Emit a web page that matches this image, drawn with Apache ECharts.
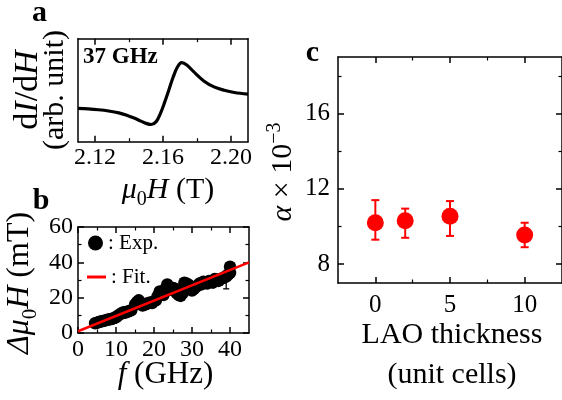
<!DOCTYPE html>
<html>
<head>
<meta charset="utf-8">
<script src="https://cdn.jsdelivr.net/npm/echarts@6/dist/echarts.min.js"></script>
<style>
  html, body { margin: 0; padding: 0; background: #fff; }
  #chart { width: 562px; height: 400px; }
</style>
</head>
<body>
<div id="chart"></div>
<script>
// (a) derivative FMR spectrum at 37 GHz
const fieldT = [2.110, 2.116, 2.122, 2.128, 2.134, 2.139, 2.143, 2.147, 2.150, 2.153,
                2.156, 2.1585, 2.161, 2.1635, 2.166, 2.1685, 2.171, 2.174, 2.178, 2.184,
                2.190, 2.196, 2.202, 2.210];
const dIdH = [32.3, 31.8, 31.0, 29.8, 28.0, 25.5, 23.0, 20.0, 17.8, 16.7,
              19.5, 27.5, 38.4, 50.5, 62.8, 72.5, 76.7, 74.5, 68.0, 59.0,
              53.2, 50.0, 47.8, 46.2];

// (b) linewidth versus frequency
const freqGHz = [4.5, 5.0, 5.5, 6.0, 6.5, 7.0, 7.5, 8.0, 8.5, 9.0,
                 9.5, 10.0, 10.5, 11.0, 11.5, 12.0, 12.5, 13.0, 13.5, 14.0,
                 15.0, 15.5, 16.0, 16.5, 17.0, 17.5, 18.0, 18.5, 19.0, 19.5,
                 20.0, 20.5, 21.0, 21.5, 22.0, 22.5, 23.0, 23.5, 24.0, 24.5,
                 25.0, 25.5, 26.0, 26.5, 27.0, 27.5, 28.0, 28.5, 29.0, 29.5,
                 30.0, 30.5, 31.0, 31.5, 32.0, 32.5, 33.0, 33.5, 34.0, 34.5,
                 35.0, 35.5, 36.0, 36.5, 37.0, 37.5, 38.0, 38.5, 39.0, 39.5,
                 40.0, 40.0];
const linewidthMT = [5.5, 5.8, 6.2, 6.5, 6.8, 7.0, 7.3, 7.6, 7.8, 8.0,
                     8.5, 8.8, 9.8, 10.5, 11.2, 11.8, 11.5, 12.0, 12.5, 12.8,
                     16.0, 17.5, 18.5, 17.0, 15.5, 16.0, 16.5, 16.8, 17.2, 17.0,
                     18.0, 18.5, 21.0, 23.5, 22.0, 21.5, 25.0, 27.5, 26.0, 24.5,
                     25.5, 25.0, 22.5, 21.5, 21.0, 22.5, 28.5, 28.0, 27.5, 26.5,
                     24.0, 25.0, 26.0, 27.0, 28.0, 27.5, 29.0, 28.5, 28.0, 29.5,
                     29.0, 28.5, 30.5, 30.0, 29.5, 30.5, 31.0, 31.5, 32.0, 33.0,
                     37.5, 34.0];
const errFreq = [32, 39];
const errLow = [27.0, 25.0];
const errHigh = [30.4, 33.0];
const fitFreq = [0, 45];
const fitLinewidth = [1.0, 40.0];

// (c) damping versus LAO thickness
const laoThickness = [0, 2, 5, 10];
const alphaE3 = [10.2, 10.3, 10.55, 9.55];
const alphaLow = [9.3, 9.4, 9.5, 8.9];
const alphaHigh = [11.4, 10.95, 11.35, 10.2];

// tick values
const ticksAx = [2.12, 2.16, 2.20], minorAx = [2.14, 2.18];
const ticksBx = [0, 10, 20, 30, 40], minorBx = [5, 15, 25, 35];
const ticksBy = [0, 20, 40, 60], minorBy = [10, 30, 50];
const ticksCx = [0, 5, 10], minorCx = [2.5, 7.5];
const ticksCy = [8, 12, 16], minorCy = [10, 14, 18];

const FONT = '"Liberation Serif", serif';
const zip = (a, b) => a.map((v, i) => [v, b[i]]);

function tickLabel(size, margin, digits) {
  return {
    show: true, margin: margin, color: '#000', fontFamily: FONT, fontSize: size,
    formatter: v => (digits != null ? v.toFixed(digits) : String(v))
  };
}

// four axes per side pair: primary major/minor + opposite major/minor (closed box, inward ticks)
function boxAxes(dim, grid, min, max, major, minor, label) {
  const pos = dim === 'x' ? ['bottom', 'top'] : ['left', 'right'];
  const out = [];
  pos.forEach((p, k) => {
    out.push({
      gridIndex: grid, type: 'value', min: min, max: max, position: p,
      splitLine: { show: false },
      axisLine: { show: true, onZero: false, lineStyle: { color: '#000', width: 1.5 } },
      axisTick: { show: major.length > 0, inside: true, length: 6, customValues: major,
                  lineStyle: { color: '#000', width: 1.5 } },
      axisLabel: (k === 0 && label)
        ? Object.assign({ customValues: major }, label)
        : { show: false }
    });
    out.push({
      gridIndex: grid, type: 'value', min: min, max: max, position: p,
      splitLine: { show: false },
      axisLine: { show: false, onZero: false },
      axisTick: { show: minor.length > 0, inside: true, length: 3.5, customValues: minor,
                  lineStyle: { color: '#000', width: 1.2 } },
      axisLabel: { show: false }
    });
  });
  return out;
}

function errorBars(capHalf, color, width) {
  return function (params, api) {
    const x = api.value(0);
    const lo = api.coord([x, api.value(1)]);
    const hi = api.coord([x, api.value(2)]);
    const st = { stroke: color, lineWidth: width };
    return {
      type: 'group',
      children: [
        { type: 'line', shape: { x1: lo[0], y1: lo[1], x2: hi[0], y2: hi[1] }, style: st },
        { type: 'line', shape: { x1: lo[0] - capHalf, y1: lo[1], x2: lo[0] + capHalf, y2: lo[1] }, style: st },
        { type: 'line', shape: { x1: hi[0] - capHalf, y1: hi[1], x2: hi[0] + capHalf, y2: hi[1] }, style: st }
      ]
    };
  };
}

const xAxes = [].concat(
  boxAxes('x', 0, 2.11, 2.21, ticksAx, minorAx, tickLabel(24, 4, 2)),
  boxAxes('x', 1, 0, 45, ticksBx, minorBx, tickLabel(24, 5)),
  boxAxes('x', 2, -2.5, 12.5, ticksCx, minorCx, tickLabel(25, 10))
);
const yAxes = [].concat(
  boxAxes('y', 0, 0, 100, [], [], null),
  boxAxes('y', 1, 0, 60, ticksBy, minorBy, tickLabel(24, 5)),
  boxAxes('y', 2, 7, 19, ticksCy, minorCy, tickLabel(25, 8))
);

function richSet(size) {
  const s = Math.round(size * 0.65);
  return {
    i: { fontStyle: 'italic', fontFamily: FONT, fontSize: size },
    n: { fontFamily: FONT, fontSize: size },
    iL: { fontStyle: 'italic', fontFamily: FONT, fontSize: 34 },
    nL: { fontFamily: FONT, fontSize: 34 },
    sub: { fontFamily: FONT, fontSize: s, lineHeight: s, padding: [Math.round(size * 0.62), 0, 0, 0] },
    sup: { fontFamily: FONT, fontSize: s, lineHeight: s, padding: [0, 0, Math.round(size * 0.55), 0] }
  };
}

function label(x, y, text, font, rot) {
  return {
    type: 'text', x: x, y: y, rotation: rot || 0,
    style: { text: text, font: font, fill: '#000', align: 'center', verticalAlign: 'middle' }
  };
}
function richLabel(x, y, text, size, rot, lineHeight) {
  return {
    type: 'text', x: x, y: y, rotation: rot || 0,
    style: {
      text: text, fill: '#000', align: 'center', verticalAlign: 'middle',
      font: size + 'px ' + FONT, lineHeight: lineHeight || size, rich: richSet(size)
    }
  };
}

const legendText = { fontFamily: FONT, fontSize: 21, color: '#000' };

const option = {
  animation: false,
  backgroundColor: '#fff',
  textStyle: { fontFamily: FONT, color: '#000' },
  grid: [
    { left: 78, top: 38.7, width: 170, height: 103 },
    { left: 78, top: 227, width: 171, height: 106 },
    { left: 338, top: 57, width: 228, height: 226 }
  ],
  xAxis: xAxes,
  yAxis: yAxes,
  legend: [
    {
      data: [{ name: 'Exp.', icon: 'circle' }],
      left: 88, top: 232.5, padding: 0, itemWidth: 15, itemHeight: 15,
      selectedMode: false, formatter: ': {name}', textStyle: legendText
    },
    {
      data: [{ name: 'Fit.', icon: 'rect' }],
      left: 87, top: 266.5, padding: 0, itemWidth: 19, itemHeight: 3,
      selectedMode: false, formatter: ': {name}', textStyle: legendText
    }
  ],
  graphic: [
    label(39.5, 13, 'a', 'bold 30px ' + FONT),
    label(41, 201, 'b', 'bold 30px ' + FONT),
    label(312.5, 53, 'c', 'bold 30px ' + FONT),
    {
      type: 'text', x: 83, y: 57.5,
      style: { text: '37 GHz', font: 'bold 23px ' + FONT, fill: '#000', align: 'left', verticalAlign: 'middle' }
    },
    richLabel(42, 90, '{nL|d}{iL|I}{nL|/d}{iL|H}\n{n|(arb. unit)}', 30, Math.PI / 2, 27),
    richLabel(168, 190, '{i|μ}{sub|0}{i|H}{n| (T)}', 30),
    richLabel(20, 283, '{i|Δμ}{sub|0}{i|H}{n| (mT)}', 32, Math.PI / 2),
    richLabel(165.5, 375, '{i|f}{n| (GHz)}', 31),
    richLabel(283, 172, '{i|α}{n| × 10}{sup|−3}', 30, Math.PI / 2),
    richLabel(452, 355, '{n|LAO thickness}\n{n|(unit cells)}', 30, 0, 40)
  ],
  series: [
    {
      type: 'line', xAxisIndex: 0, yAxisIndex: 0,
      data: zip(fieldT, dIdH), smooth: 0.35, showSymbol: false,
      lineStyle: { color: '#000', width: 3.2 }
    },
    {
      type: 'custom', xAxisIndex: 4, yAxisIndex: 4,
      data: errFreq.map((f, i) => [f, errLow[i], errHigh[i]]),
      encode: { x: 0, y: [1, 2] },
      renderItem: errorBars(3, '#000', 1.3), z: 2
    },
    {
      name: 'Exp.', type: 'scatter', xAxisIndex: 4, yAxisIndex: 4,
      data: zip(freqGHz, linewidthMT), symbolSize: 12.5,
      itemStyle: { color: '#000', opacity: 1 }, z: 3
    },
    {
      name: 'Fit.', type: 'line', xAxisIndex: 4, yAxisIndex: 4,
      data: zip(fitFreq, fitLinewidth), showSymbol: false,
      lineStyle: { color: '#ff0000', width: 2.5 }, itemStyle: { color: '#ff0000' }, z: 4
    },
    {
      type: 'custom', xAxisIndex: 8, yAxisIndex: 8,
      data: laoThickness.map((t, i) => [t, alphaLow[i], alphaHigh[i]]),
      encode: { x: 0, y: [1, 2] },
      renderItem: errorBars(4, '#ff0000', 2), z: 2
    },
    {
      type: 'scatter', xAxisIndex: 8, yAxisIndex: 8,
      data: zip(laoThickness, alphaE3), symbolSize: 17,
      itemStyle: { color: '#ff0000', opacity: 1 }, z: 3
    }
  ]
};

const chart = echarts.init(document.getElementById('chart'), null, { renderer: 'canvas' });
chart.setOption(option);
</script>
</body>
</html>
